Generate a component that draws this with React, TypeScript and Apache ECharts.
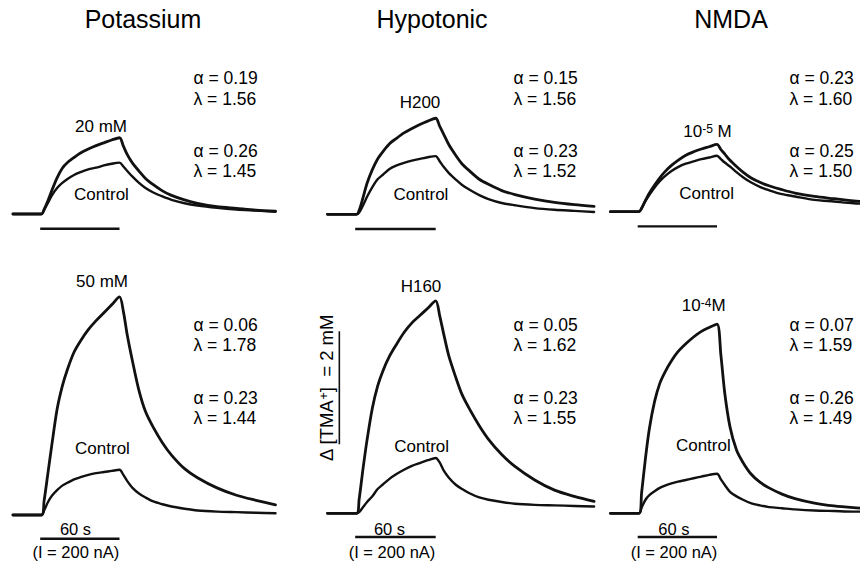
import React, { useEffect, useRef } from "react";
import * as echarts from "echarts";

// ---------- data ----------
const TIME_S = [-22, 0, 2, 5, 8, 12, 16, 20, 25, 30, 36, 42, 48, 54, 60, 63, 66, 70, 75, 80, 86, 93, 100, 110, 120, 135, 150, 165, 180];

// Potassium
const K20 = [0, 0, 0.08, 0.24, 0.42, 0.64, 0.81, 0.91, 1.0, 1.08, 1.15, 1.21, 1.26, 1.31, 1.35, 1.2, 1.05, 0.9, 0.76, 0.63, 0.52, 0.41, 0.33, 0.25, 0.19, 0.13, 0.1, 0.07, 0.05];
const K20_CONTROL = [0, 0, 0.07, 0.2, 0.33, 0.46, 0.55, 0.62, 0.69, 0.74, 0.79, 0.82, 0.86, 0.89, 0.91, 0.84, 0.76, 0.66, 0.55, 0.46, 0.38, 0.31, 0.25, 0.19, 0.15, 0.11, 0.08, 0.06, 0.04];
const K50 = [0, 0, 0.25, 0.75, 1.25, 1.87, 2.28, 2.58, 2.88, 3.08, 3.28, 3.44, 3.58, 3.72, 3.86, 3.6, 3.18, 2.72, 2.2, 1.83, 1.55, 1.28, 1.06, 0.82, 0.66, 0.48, 0.35, 0.26, 0.18];
const K50_CONTROL = [0, 0, 0.08, 0.23, 0.34, 0.44, 0.52, 0.57, 0.63, 0.67, 0.71, 0.74, 0.76, 0.78, 0.8, 0.71, 0.6, 0.48, 0.38, 0.31, 0.24, 0.19, 0.15, 0.11, 0.08, 0.06, 0.05, 0.04, 0.03];
// Hypotonic
const H200 = [0, 0, 0.07, 0.3, 0.55, 0.79, 0.98, 1.11, 1.25, 1.34, 1.44, 1.52, 1.59, 1.65, 1.7, 1.56, 1.42, 1.23, 1.05, 0.89, 0.76, 0.62, 0.53, 0.42, 0.35, 0.27, 0.21, 0.17, 0.14];
const H200_CONTROL = [0, 0, 0.03, 0.16, 0.31, 0.48, 0.62, 0.7, 0.8, 0.86, 0.91, 0.95, 0.98, 1.01, 1.03, 0.94, 0.84, 0.73, 0.62, 0.52, 0.43, 0.34, 0.27, 0.2, 0.16, 0.11, 0.08, 0.06, 0.04];
const H160 = [0, 0, 0.25, 0.8, 1.3, 1.86, 2.25, 2.52, 2.78, 2.98, 3.2, 3.37, 3.5, 3.63, 3.76, 3.5, 3.18, 2.78, 2.42, 2.1, 1.83, 1.55, 1.31, 1.04, 0.83, 0.59, 0.41, 0.3, 0.21];
const H160_CONTROL = [0, 0, 0.02, 0.11, 0.2, 0.3, 0.43, 0.51, 0.61, 0.69, 0.77, 0.84, 0.89, 0.94, 0.98, 0.9, 0.76, 0.63, 0.51, 0.43, 0.35, 0.28, 0.24, 0.2, 0.17, 0.15, 0.14, 0.13, 0.12];
// NMDA
const N5 = [0, 0, 0.06, 0.2, 0.33, 0.47, 0.6, 0.71, 0.82, 0.91, 1.0, 1.06, 1.11, 1.15, 1.19, 1.1, 1.02, 0.91, 0.8, 0.7, 0.6, 0.52, 0.46, 0.39, 0.33, 0.27, 0.23, 0.19, 0.17];
const N5_CONTROL = [0, 0, 0.06, 0.19, 0.3, 0.43, 0.54, 0.63, 0.72, 0.79, 0.85, 0.89, 0.93, 0.96, 0.99, 0.93, 0.87, 0.8, 0.7, 0.61, 0.52, 0.44, 0.38, 0.31, 0.27, 0.21, 0.18, 0.15, 0.13];
const N4 = [0, 0, 0.36, 0.98, 1.5, 1.98, 2.3, 2.5, 2.7, 2.86, 3.0, 3.12, 3.22, 3.29, 3.35, 2.8, 2.12, 1.53, 1.12, 0.9, 0.7, 0.55, 0.45, 0.34, 0.26, 0.18, 0.13, 0.1, 0.08];
const N4_CONTROL = [0, 0, 0.1, 0.24, 0.32, 0.39, 0.45, 0.49, 0.53, 0.56, 0.59, 0.62, 0.65, 0.68, 0.7, 0.6, 0.5, 0.38, 0.3, 0.24, 0.18, 0.14, 0.11, 0.09, 0.07, 0.05, 0.04, 0.03, 0.03];

const PANEL_TITLES = ["Potassium", "Hypotonic", "NMDA"];
const TREATMENT_LABELS = ["20 mM", "50 mM", "H200", "H160", "10{sup|-5} M", "10{sup|-4}M"];
const CONTROL_LABEL = "Control";
const ALPHA_TREATED = ["0.19", "0.06", "0.15", "0.05", "0.23", "0.07"];
const LAMBDA_TREATED = ["1.56", "1.78", "1.56", "1.62", "1.60", "1.59"];
const ALPHA_CONTROL = ["0.26", "0.23", "0.23", "0.23", "0.25", "0.26"];
const LAMBDA_CONTROL = ["1.45", "1.44", "1.52", "1.55", "1.50", "1.49"];
const STIM_S = [-1, 60];
const SCALE_BAR_MM = [1.22, 3.22];
const SCALE_BAR_T = -13;
const SCALE_LABEL = "Δ [TMA{sup|+}]  = 2 mM";
const DURATION_LABEL = "60 s";
const CURRENT_LABEL = "(I = 200 nA)";

const PANEL_SERIES = [
  [K20, K20_CONTROL],
  [K50, K50_CONTROL],
  [H200, H200_CONTROL],
  [H160, H160_CONTROL],
  [N5, N5_CONTROL],
  [N4, N4_CONTROL],
];

// ---------- layout ----------
const T_MIN = -22;
const T_MAX = 180;
const COL_ONSET_PX = [41.5, 356.5, 639];
const COL_PX_PER_S = [1.3, 1.32, 1.3];
const PANEL_BASELINE_PX = [214, 515, 214.3, 513.3, 211.7, 513.3];
const PX_PER_MM = 56.5;
const ROW_Y_RANGE = [
  [-0.5, 2.5],
  [-0.5, 4.5],
];
const ROW_STIM_MM = [-0.26, -0.42];

const TITLE_POS = [[143, 19], [432, 19], [731, 19]];
const PARAM_X = [193.5, 513.5, 789.5];
const ROW_PARAM_Y = [
  [78, 98.5, 150.5, 170.5],
  [325, 345, 397.5, 417.5],
];
const TREAT_LABEL_POS = [[101, 126], [102, 281], [420, 102.5], [421, 286.5], [707.5, 131], [703.7, 305.5]];
const CONTROL_LABEL_POS = [[101.5, 194], [102.5, 448], [421, 194], [421.7, 446.5], [706.7, 193.5], [703.3, 445]];
const DURATION_LABEL_POS = [[75.5, 528.5], [389.5, 528.5], [673.8, 528.5]];
const CURRENT_LABEL_POS = [[75.8, 552], [392, 552], [674, 552]];
const SCALE_LABEL_POS = [326, 388];

const FONT = "'Liberation Sans', Arial, Helvetica, sans-serif";
const INK = "#000";
const LINE = "#111";

function buildOption() {
  const grids: any[] = [];
  const xAxes: any[] = [];
  const yAxes: any[] = [];
  const series: any[] = [];
  const graphics: any[] = [];

  const text = (x: number, y: number, t: string, size: number, align = "center", extra: any = {}) => ({
    type: "text",
    x,
    y,
    silent: true,
    ...extra,
    style: {
      text: t,
      x: 0,
      y: 0,
      fill: INK,
      fontFamily: FONT,
      fontSize: size,
      lineHeight: size,
      align,
      textAlign: align,
      verticalAlign: "middle",
      textVerticalAlign: "middle",
      rich: {
        sup: { fontFamily: FONT, fontSize: Math.round(size * 0.68), lineHeight: size, fill: INK, verticalAlign: "top" },
      },
    },
  });

  PANEL_SERIES.forEach((pair, i) => {
    const col = Math.floor(i / 2);
    const row = i % 2;
    const pps = COL_PX_PER_S[col];
    const [yMin, yMax] = ROW_Y_RANGE[row];
    const base = PANEL_BASELINE_PX[i];
    grids.push({
      left: COL_ONSET_PX[col] + T_MIN * pps,
      width: (T_MAX - T_MIN) * pps,
      top: base - yMax * PX_PER_MM,
      height: (yMax - yMin) * PX_PER_MM,
      containLabel: false,
      outerBoundsMode: "none",
    });
    xAxes.push({ type: "value", gridIndex: i, min: T_MIN, max: T_MAX, show: false, splitLine: { show: false } });
    yAxes.push({ type: "value", gridIndex: i, min: yMin, max: yMax, show: false, splitLine: { show: false } });

    pair.forEach((values, k) => {
      series.push({
        type: "line",
        xAxisIndex: i,
        yAxisIndex: i,
        data: TIME_S.map((t, j) => [t, values[j]]),
        showSymbol: false,
        smooth: 0.3,
        silent: true,
        lineStyle: { color: LINE, width: k === 0 ? 2.8 : 2.4, join: "round", cap: "round" },
      });
    });
    series.push({
      type: "line",
      xAxisIndex: i,
      yAxisIndex: i,
      data: STIM_S.map((t) => [t, ROW_STIM_MM[row]]),
      showSymbol: false,
      silent: true,
      lineStyle: { color: LINE, width: 2.4 },
    });
    if (i === 3) {
      series.push({
        type: "line",
        xAxisIndex: i,
        yAxisIndex: i,
        data: SCALE_BAR_MM.map((c) => [SCALE_BAR_T, c]),
        showSymbol: false,
        silent: true,
        lineStyle: { color: LINE, width: 1.6 },
      });
    }

    const py = ROW_PARAM_Y[row];
    const px = PARAM_X[col];
    graphics.push(text(px, py[0], `α = ${ALPHA_TREATED[i]}`, 17.5, "left"));
    graphics.push(text(px, py[1], `λ = ${LAMBDA_TREATED[i]}`, 17.5, "left"));
    graphics.push(text(px, py[2], `α = ${ALPHA_CONTROL[i]}`, 17.5, "left"));
    graphics.push(text(px, py[3], `λ = ${LAMBDA_CONTROL[i]}`, 17.5, "left"));
    graphics.push(text(TREAT_LABEL_POS[i][0], TREAT_LABEL_POS[i][1], TREATMENT_LABELS[i], 17));
    graphics.push(text(CONTROL_LABEL_POS[i][0], CONTROL_LABEL_POS[i][1], CONTROL_LABEL, 17));
  });

  PANEL_TITLES.forEach((t, c) => {
    graphics.push(text(TITLE_POS[c][0], TITLE_POS[c][1], t, 25));
    graphics.push(text(DURATION_LABEL_POS[c][0], DURATION_LABEL_POS[c][1], DURATION_LABEL, 16.5));
    graphics.push(text(CURRENT_LABEL_POS[c][0], CURRENT_LABEL_POS[c][1], CURRENT_LABEL, 16.5));
  });

  graphics.push(
    text(SCALE_LABEL_POS[0], SCALE_LABEL_POS[1], SCALE_LABEL, 18.5, "center", { rotation: Math.PI / 2 })
  );

  return {
    animation: false,
    backgroundColor: "#fff",
    grid: grids,
    xAxis: xAxes,
    yAxis: yAxes,
    series,
    graphic: graphics,
  };
}

export default function App() {
  const ref = useRef<HTMLDivElement>(null);
  useEffect(() => {
    document.body.style.margin = "0";
    if (!ref.current) return;
    const chart = echarts.init(ref.current, undefined, { renderer: "svg" });
    chart.setOption(buildOption() as any);
    return () => chart.dispose();
  }, []);
  return <div ref={ref} style={{ width: 860, height: 565, background: "#fff" }} />;
}
